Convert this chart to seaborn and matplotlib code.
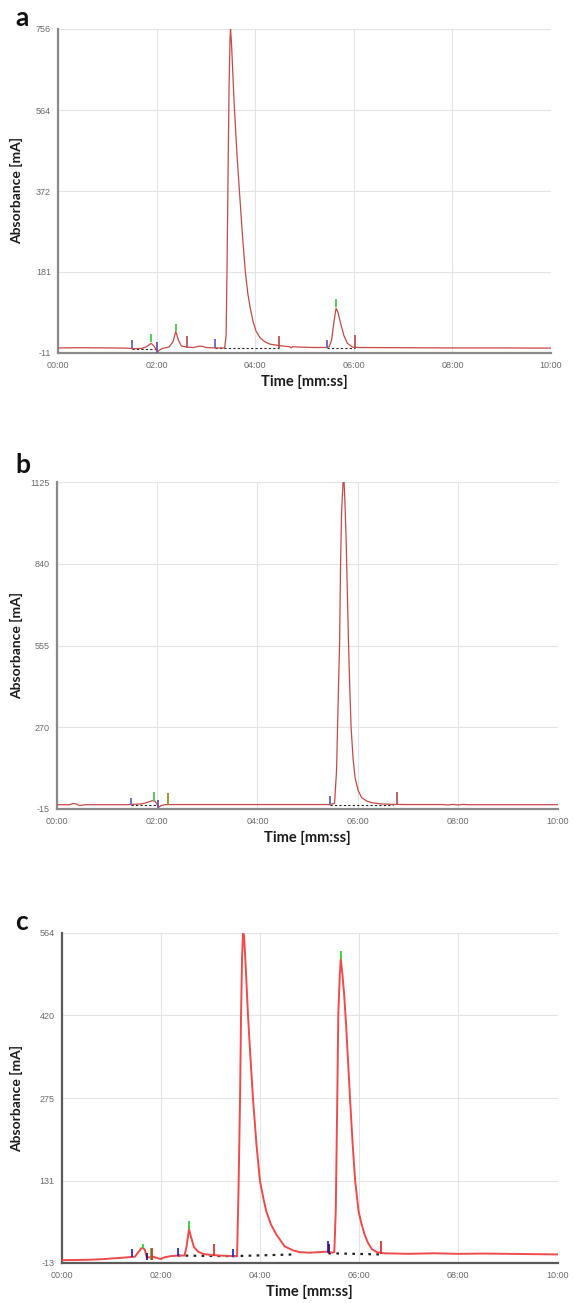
import matplotlib
matplotlib.use("Agg")
import matplotlib.pyplot as plt
import seaborn as sns
import pandas as pd

# --- data (time in minutes, absorbance in mA)
x_ticks = [0, 2, 4, 6, 8, 10]
x_ticklabels = ["00:00", "02:00", "04:00", "06:00", "08:00", "10:00"]

# panel a
a_yticks = [-11, 181, 372, 564, 756]
a_time = [0.00, 0.50, 1.00, 1.40, 1.55, 1.70, 1.80, 1.89, 1.95, 1.99, 2.02, 2.06, 2.12,
          2.25, 2.33, 2.39, 2.44, 2.50, 2.60, 2.75, 2.85, 2.92, 3.00, 3.20, 3.38, 3.41,
          3.43, 3.45, 3.47, 3.49, 3.50, 3.52, 3.55, 3.58, 3.63, 3.68, 3.74, 3.80, 3.85,
          3.90, 3.96, 4.02, 4.10, 4.19, 4.30, 4.46, 4.60, 4.70, 4.73, 4.76, 4.90, 5.20,
          5.45, 5.50, 5.55, 5.60, 5.64, 5.68, 5.74, 5.80, 5.87, 5.97, 6.10, 7.00, 8.00,
          9.00, 10.00]
a_abs = [1, 1.5, 1, 0.5, -1, 0, 4, 12, 5, -3, -8, -4, 0,
         3, 15, 40, 20, 6, 3, 2, 5, 5, 2, 1, 1, 30,
         200, 420, 620, 735, 756, 720, 640, 564, 460, 372, 270, 181, 130,
         95, 62, 40, 25, 16, 10, 7, 5, 4, 1, 4, 3, 2,
         2, 4, 20, 65, 95, 85, 56, 30, 12, 3, 2, 1.5, 1,
         1, 0.5]
a_mark_time = [1.50, 1.89, 2.00, 2.39, 2.62, 3.19, 4.48, 5.45, 5.64, 6.02]
a_mark_low = [0, 15, -10, 40, 0, 0, 2, 2, 99, 2]
a_mark_high = [20, 35, 15, 58, 30, 22, 30, 20, 118, 32]
a_mark_kind = ["start", "apex", "split", "apex", "end", "start", "end", "start", "apex", "end"]
a_base_time = [[1.50, 2.00], [3.19, 4.48], [5.45, 6.02]]
a_base_abs = [[-1, -1], [0, 0], [0, 0]]

# panel b
b_yticks = [-15, 270, 555, 840, 1125]
b_time = [0.00, 0.25, 0.32, 0.38, 0.45, 0.52, 0.60, 1.00, 1.40, 1.50, 1.70, 1.80, 1.90,
          1.96, 2.00, 2.04, 2.08, 2.15, 2.30, 3.00, 4.00, 5.00, 5.45, 5.54, 5.58, 5.60,
          5.62, 5.64, 5.66, 5.68, 5.71, 5.73, 5.75, 5.77, 5.79, 5.82, 5.845, 5.87, 5.91,
          5.95, 6.01, 6.08, 6.18, 6.28, 6.45, 6.70, 7.00, 7.70, 7.80, 7.90, 8.00, 8.10,
          8.20, 9.00, 10.00]
b_abs = [0, 0, 4, 3, -3, -1, 0, 0, 0, 1, 3, 8, 14,
         12, 0, -8, -3, 0, 0.5, 0.5, 0.5, 0.5, 0.5, 5, 120, 270,
         420, 555, 840, 1020, 1125, 1125, 1040, 930, 780, 555, 400, 270, 160,
         94, 50, 25, 13, 7, 3, 1, 0.5, 0.5, -1, 1, -1, 1,
         0, 0, 0]
b_mark_time = [1.47, 1.93, 2.02, 2.22, 5.45, 6.79]
b_mark_low = [0, 14, -12, 0, 0, 0]
b_mark_high = [25, 45, 18, 42, 30, 46]
b_mark_kind = ["start", "apex", "split", "olive", "start", "end"]
b_base_time = [[1.47, 2.00], [5.45, 6.70]]
b_base_abs = [[-2, -2], [0, 0]]

# panel c
c_yticks = [-13, 131, 275, 420, 564]
c_time = [0.00, 0.50, 0.90, 1.00, 1.20, 1.40, 1.48, 1.55, 1.60, 1.64, 1.68, 1.72, 1.78,
          1.85, 1.95, 2.00, 2.08, 2.20, 2.35, 2.48, 2.52, 2.57, 2.62, 2.67, 2.75, 2.85,
          3.00, 3.20, 3.45, 3.54, 3.57, 3.60, 3.62, 3.64, 3.66, 3.68, 3.71, 3.76, 3.81,
          3.86, 3.93, 4.00, 4.07, 4.13, 4.22, 4.33, 4.50, 4.67, 4.80, 5.00, 5.20, 5.38,
          5.45, 5.50, 5.53, 5.56, 5.58, 5.61, 5.63, 5.66, 5.70, 5.74, 5.78, 5.82, 5.87,
          5.92, 5.99, 6.05, 6.11, 6.18, 6.26, 6.36, 6.50, 7.00, 7.50, 8.00, 8.50, 9.00,
          9.50, 10.00]
c_abs = [-8, -7.5, -6, -5, -4, -2.5, -2, 6, 12, 14, 10, -3, -3,
         -2, -5, -6, -3, -1, 0, 0, 15, 46, 30, 15, 7, 3,
         1, 0, -1, -1, 120, 275, 420, 520, 564, 560, 512, 420, 345,
         275, 195, 131, 100, 77, 55, 37, 16, 9, 6, 5, 6, 7,
         5, 6, 80, 275, 420, 490, 518, 495, 455, 400, 335, 270, 195,
         131, 77, 55, 37, 22, 11, 6, 4, 3, 4, 3, 3.5, 3,
         2.5, 2]
c_mark_time = [1.43, 1.65, 1.72, 1.81, 1.83, 2.34, 2.57, 3.08, 3.45, 5.37, 5.40, 5.63, 6.45]
c_mark_low = [-3, 14, -7, -7, -7, 0, 46, 0, -2, 5, 5, 518, 3]
c_mark_high = [12, 20, 5, 13, 13, 13, 60, 21, 12, 26, 20, 532, 25]
c_mark_kind = ["start", "apex", "split", "apex", "end", "start", "apex", "end", "start",
               "start", "split", "apex", "end"]
c_base_time = [[2.34, 3.45], [3.45, 4.70], [5.38, 6.45]]
c_base_abs = [[0, -1], [-1, 2], [4, 2]]

# --- styling
sns.set_theme(style="white")
plt.rcParams["font.family"] = ["Lato", "DejaVu Sans"]

soft_marks = {"start": "#6464c8", "apex": "#46c846", "end": "#c05050",
              "split": "#7050a0", "olive": "#9a8a30"}
strong_marks = {"start": "#2828d8", "apex": "#30d030", "end": "#e03030",
                "split": "#3a1070", "olive": "#9a8a30"}

fig = plt.figure(figsize=(5.74, 13.03), dpi=100)

panels = [
    dict(rect=[58 / 574, 1 - 353 / 1303, 493 / 574, 324 / 1303], letter="a",
         letter_y=26, yticks=a_yticks, t=a_time, v=a_abs,
         mt=a_mark_time, ml=a_mark_low, mh=a_mark_high, mk=a_mark_kind,
         bt=a_base_time, bv=a_base_abs, line="#c84848", lw=0.9, marks=soft_marks,
         dots=(0, (2, 2)), dlw=0.8, spine="#8a8a8a", xlab_top=375),
    dict(rect=[57 / 574, 1 - 809 / 1303, 501 / 574, 327 / 1303], letter="b",
         letter_y=473, yticks=b_yticks, t=b_time, v=b_abs,
         mt=b_mark_time, ml=b_mark_low, mh=b_mark_high, mk=b_mark_kind,
         bt=b_base_time, bv=b_base_abs, line="#c84848", lw=0.9, marks=soft_marks,
         dots=(0, (2, 2)), dlw=0.8, spine="#8a8a8a", xlab_top=831),
    dict(rect=[61.5 / 574, 1 - 1263 / 1303, 496 / 574, 330 / 1303], letter="c",
         letter_y=930, yticks=c_yticks, t=c_time, v=c_abs,
         mt=c_mark_time, ml=c_mark_low, mh=c_mark_high, mk=c_mark_kind,
         bt=c_base_time, bv=c_base_abs, line="#f04a4a", lw=1.4, marks=strong_marks,
         dots=(0, (1.2, 2.4)), dlw=1.6, spine="#5a5a5a", xlab_top=1285),
]

for p in panels:
    ax = fig.add_axes(p["rect"])
    df = pd.DataFrame({"time": p["t"], "abs": p["v"]})
    sns.lineplot(data=df, x="time", y="abs", ax=ax, color=p["line"], lw=p["lw"],
                 estimator=None, sort=False, zorder=3)

    # integration baseline
    for bt, bv in zip(p["bt"], p["bv"]):
        ax.plot(bt, bv, color="#222222", lw=p["dlw"], linestyle=p["dots"], zorder=2)

    # peak start / apex / end markers
    for t, lo, hi, k in zip(p["mt"], p["ml"], p["mh"], p["mk"]):
        ax.vlines(t, lo, hi, color=p["marks"][k], lw=1.3, zorder=4)

    ax.set_xlim(0, 10)
    ax.set_ylim(p["yticks"][0], p["yticks"][-1])
    ax.set_xticks(x_ticks)
    ax.set_xticklabels(x_ticklabels)
    ax.set_yticks(p["yticks"])
    ax.set_yticklabels([str(v) for v in p["yticks"]])
    ax.grid(True, color="#e4e4e4", lw=0.8)
    ax.set_axisbelow(True)

    for side in ["top", "right"]:
        ax.spines[side].set_visible(False)
    for side in ["left", "bottom"]:
        ax.spines[side].set_color(p["spine"])
        ax.spines[side].set_linewidth(1.6)

    ax.tick_params(axis="x", direction="out", length=4.5, width=1, color=p["spine"],
                   pad=1.5, labelsize=6.5, labelcolor="#6a6a6a")
    ax.tick_params(axis="y", direction="out", length=3, width=1, color=p["spine"],
                   pad=2, labelsize=6.5, labelcolor="#6a6a6a")
    for lab in ax.get_xticklabels() + ax.get_yticklabels():
        lab.set_family(["Liberation Sans", "DejaVu Sans"])

    ax.set_xlabel("Time [mm:ss]", fontsize=10.5, fontweight="bold", color="#1a1a1a")
    ax.set_ylabel("Absorbance [mA]", fontsize=10, fontweight="bold", color="#1a1a1a")
    left_px = p["rect"][0] * 574
    w_px = p["rect"][2] * 574
    bottom_px = 1303 - p["rect"][1] * 1303
    h_px = p["rect"][3] * 1303
    ax.yaxis.set_label_coords((23 - left_px) / w_px, 0.5)
    ax.xaxis.set_label_coords(0.5, (bottom_px - p["xlab_top"]) / h_px)

    fig.text(15 / 574, 1 - p["letter_y"] / 1303, p["letter"], fontsize=19,
             fontweight="bold", color="#111111", va="baseline", ha="left")

fig.savefig("out.png", dpi=100)
